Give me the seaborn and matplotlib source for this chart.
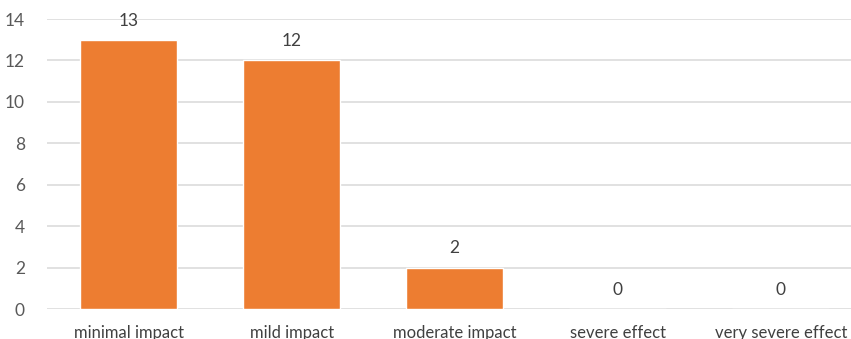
import matplotlib
matplotlib.use("Agg")
import matplotlib.pyplot as plt
import seaborn as sns
import pandas as pd

categories = ["minimal impact", "mild impact", "moderate impact", "severe effect", "very severe effect"]
counts = [13, 12, 2, 0, 0]
y_ticks = [0, 2, 4, 6, 8, 10, 12, 14]

sns.set_theme(style="white")
plt.rcParams["font.family"] = ["Lato", "DejaVu Sans"]

df = pd.DataFrame({"category": categories, "count": counts})

fig = plt.figure(figsize=(8.51, 3.39), dpi=100)
ax = fig.add_axes([47 / 851, 30 / 339, 1 - 47 / 851, 290 / 339])

sns.barplot(data=df, x="category", y="count", color="#ED7D31", saturation=1,
            width=0.595, ax=ax, zorder=3)

ax.set_xlim(-0.5, 4.43)
ax.set_ylim(0, 14)
ax.set_yticks(y_ticks)
ax.yaxis.grid(True, color="#D9D9D9", linewidth=1.1, zorder=0)
ax.set_axisbelow(True)
for s in ax.spines.values():
    s.set_visible(False)
ax.set_xlabel("")
ax.set_ylabel("")
ax.tick_params(axis="y", length=0, pad=16, labelsize=12.5, labelcolor="#595959")
ax.tick_params(axis="x", length=0, pad=11.5, labelsize=12, labelcolor="#404040")

for i, v in enumerate(counts):
    ax.annotate(str(v), xy=(i, v), xytext=(0, 8), textcoords="offset points",
                ha="center", va="bottom", fontsize=12.5, color="#404040")

fig.savefig("out.png", dpi=100)
